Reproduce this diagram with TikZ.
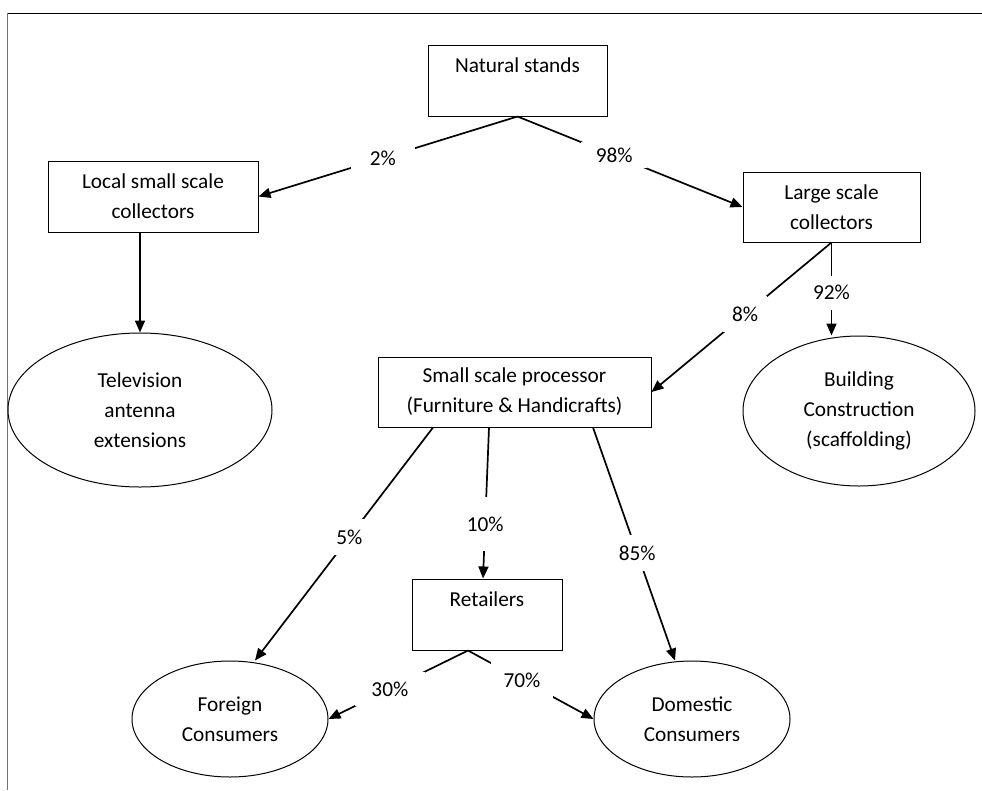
\documentclass[tikz,border=0pt]{standalone}
\usepackage{fontspec}
\setmainfont{Carlito}
\usetikzlibrary{shapes.geometric,arrows.meta}
\begin{document}
\begin{tikzpicture}[x=1pt,y=-1pt,
  every node/.style={font=\fontsize{21.3}{30}\selectfont},
  box/.style={draw, line width=1pt, rectangle, inner sep=0pt, align=center},
  ell/.style={draw, line width=1pt, ellipse, inner sep=0pt, align=center},
  arr/.style={line width=1.7pt, -{Triangle[length=12pt,width=10pt]}},
  lbl/.style={fill=white, inner sep=0pt}]
\useasboundingbox (0,0) rectangle (982,790);
\draw[line width=1pt] (7,13) -- (982,13);
\draw[line width=1pt, black!55] (7,13) -- (7,790);

% boxes
\node[box, minimum width=179pt, minimum height=71pt] (ns) at (517.5,80.5) {Natural stands\\\mbox{}};
\node[box, minimum width=210pt, minimum height=71pt] (lsc) at (153,196.5) {Local small scale\\collectors};
\node[box, minimum width=177pt, minimum height=70pt] (lgc) at (831.5,207) {Large scale\\collectors};
\node[box, minimum width=273pt, minimum height=70pt] (psp) at (514.5,392) {Small scale processor\\(Furniture \& Handicrafts)};
\node[box, minimum width=150pt, minimum height=71pt] (ret) at (487,614.5) {Retailers\\\mbox{}};

% ellipses
\node[ell, minimum width=264pt, minimum height=154pt] (tv) at (140,410) {Television\\antenna\\extensions};
\node[ell, minimum width=232pt, minimum height=150pt] (bc) at (859,411) {Building\\Construction\\(scaffolding)};
\node[ell, minimum width=196pt, minimum height=116pt] (fc) at (230,719) {Foreign\\Consumers};
\node[ell, minimum width=196pt, minimum height=116pt] (dc) at (692,719) {Domestic\\Consumers};

% connectors
\draw[arr] (ns.south) -- node[lbl, pos=0.52, minimum width=64pt, minimum height=22pt] (l2) {2\%} (lsc.east);
\draw[arr] (ns.south) -- node[lbl, pos=0.43, minimum width=66pt, minimum height=26pt] (l98) {98\%} (lgc.west);
\draw[arr] (lsc.south -| tv.north) -- (tv.north);
\draw[arr] (lgc.south) -- node[lbl, pos=0.48, minimum width=44pt, minimum height=36pt] (l8) {8\%} (psp.east);
\draw[arr] (lgc.south) -- node[lbl, pos=0.54, minimum width=40pt, minimum height=34pt] (l92) {92\%} (bc.north -| lgc.south);
\draw[arr] ([xshift=-81.5pt]psp.south) -- node[lbl, pos=0.47, minimum width=30pt, minimum height=36pt] (l5) {5\%} ([xshift=25pt]fc.north);
\draw[arr] ([xshift=-25.5pt]psp.south) -- node[lbl, pos=0.64, minimum width=40pt, minimum height=54pt] (l10) {10\%} ([xshift=-4pt]ret.north);
\draw[arr] ([xshift=78.5pt]psp.south) -- node[lbl, pos=0.54, minimum width=38pt, minimum height=36pt] (l85) {85\%} ([xshift=-17pt]dc.north);
\draw[arr] ([xshift=-19pt]ret.south) -- node[lbl, pos=0.56, minimum width=70pt, minimum height=34pt] (l30) {30\%} (fc.east);
\draw[arr] ([xshift=-19pt]ret.south) -- node[lbl, pos=0.43, minimum width=62pt, minimum height=38pt] (l70) {70\%} (dc.west);
\end{tikzpicture}
\end{document}
